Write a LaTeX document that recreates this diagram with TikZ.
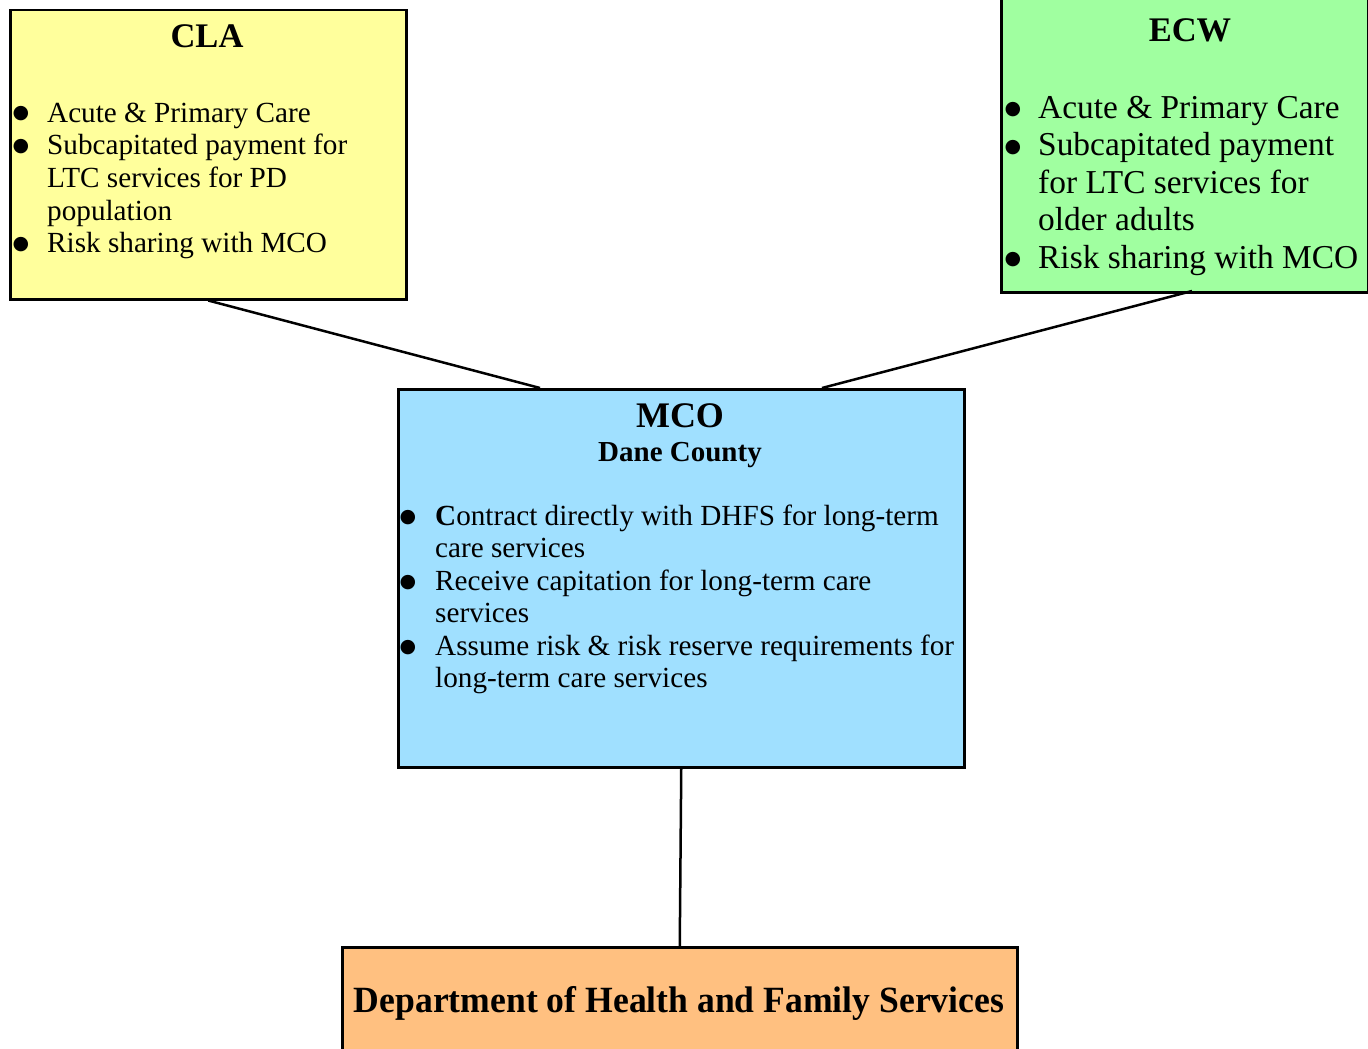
\documentclass[tikz,border=0pt]{standalone}
\usepackage{fontspec}
\setmainfont{Liberation Serif}
\newfontfamily\dejavu{DejaVu Sans}
\definecolor{claY}{HTML}{FFFF9C}
\definecolor{ecwG}{HTML}{A0FFA0}
\definecolor{mcoB}{HTML}{A0E0FF}
\definecolor{dhfsO}{HTML}{FFC080}
\begin{document}
\begin{tikzpicture}[x=1pt,y=-1pt,
 box/.style={draw=black, line width=2.5pt, inner sep=0pt, anchor=north west},
 txt/.style={inner sep=0pt, anchor=base west},
 ttl/.style={inner sep=0pt, anchor=base},
 bul/.style={inner sep=0pt, anchor=center, font=\dejavu\fontsize{19}{19}\selectfont},
 link/.style={line width=2.5pt}]
\useasboundingbox (0,0) rectangle (1368,1049);
\fill[white] (0,0) rectangle (1368,1049);
% boxes
\node[box, fill=claY, minimum width=396pt, minimum height=289pt] (cla) at (9,9) {};
\node[box, fill=ecwG, minimum width=367pt, minimum height=301pt] (ecw) at (1000,-10) {};
\node[box, fill=mcoB, minimum width=566pt, minimum height=378pt] (mco) at (397,388) {};
\node[box, fill=dhfsO, minimum width=675pt, minimum height=115pt] (dhfs) at (341,946) {};
% connectors
\coordinate (mcoL) at (540,388);
\coordinate (mcoR) at (822,388);
\coordinate (ecwS) at (1192,291);
\draw[link] (cla.south) -- (mcoL);
\draw[link] (ecwS) -- (mcoR);
\draw[link] (mco.south) -- (dhfs.north);
% CLA text
\begin{scope}[every node/.append style={font=\fontsize{29.2}{32}\selectfont}]
\node[ttl, font=\bfseries\fontsize{34.5}{38}\selectfont] (claT) at (207,48) {CLA};
\node[bul] (claB1) at (21,114) {●};
\node[txt] (cla1) at (47,122) {Acute \& Primary Care};
\node[bul] (claB2) at (21,147) {●};
\node[txt] (cla2) at (47,154.7) {Subcapitated payment for};
\node[txt] (cla3) at (47,187.4) {LTC services for PD};
\node[txt] (cla4) at (47,220.1) {population};
\node[bul] (claB3) at (21,245) {●};
\node[txt] (cla5) at (47,252.8) {Risk sharing with MCO};
\end{scope}
% ECW text
\begin{scope}[every node/.append style={font=\fontsize{33.4}{36}\selectfont}]
\node[ttl, font=\bfseries\fontsize{34.5}{38}\selectfont] (ecwT) at (1190,42) {ECW};
\node[bul] (ecwB1) at (1013,110) {●};
\node[txt] (ecw1) at (1038,118) {Acute \& Primary Care};
\node[bul] (ecwB2) at (1013,147.5) {●};
\node[txt] (ecw2) at (1038,155.5) {Subcapitated payment};
\node[txt] (ecw3) at (1038,193) {for LTC services for};
\node[txt] (ecw4) at (1038,230.5) {older adults};
\node[bul] (ecwB3) at (1013,260) {●};
\node[txt] (ecw5) at (1038,268) {Risk sharing with MCO};
\end{scope}
% MCO text
\begin{scope}[every node/.append style={font=\fontsize{29.2}{32}\selectfont}]
\node[ttl, font=\bfseries\fontsize{36}{40}\selectfont] (mcoT) at (680,427) {MCO};
\node[ttl, font=\bfseries\fontsize{29}{32}\selectfont] (mcoS) at (680,461) {Dane County};
\node[bul] (mcoB1) at (408,518) {●};
\node[txt] (mco1) at (435,525) {\textbf{C}ontract directly with DHFS for long-term};
\node[txt] (mco2) at (435,557.5) {care services};
\node[bul] (mcoB2) at (408,583) {●};
\node[txt] (mco3) at (435,590) {Receive capitation for long-term care};
\node[txt] (mco4) at (435,622.5) {services};
\node[bul] (mcoB3) at (408,648) {●};
\node[txt] (mco5) at (435,655) {Assume risk \& risk reserve requirements for};
\node[txt] (mco6) at (435,687.5) {long-term care services};
\end{scope}
% DHFS text
\node[ttl, font=\bfseries\fontsize{37}{40}\selectfont] (dhfsT) at (679,1012) {\resizebox{650pt}{\height}{Department of Health and Family Services}};
\end{tikzpicture}
\end{document}
